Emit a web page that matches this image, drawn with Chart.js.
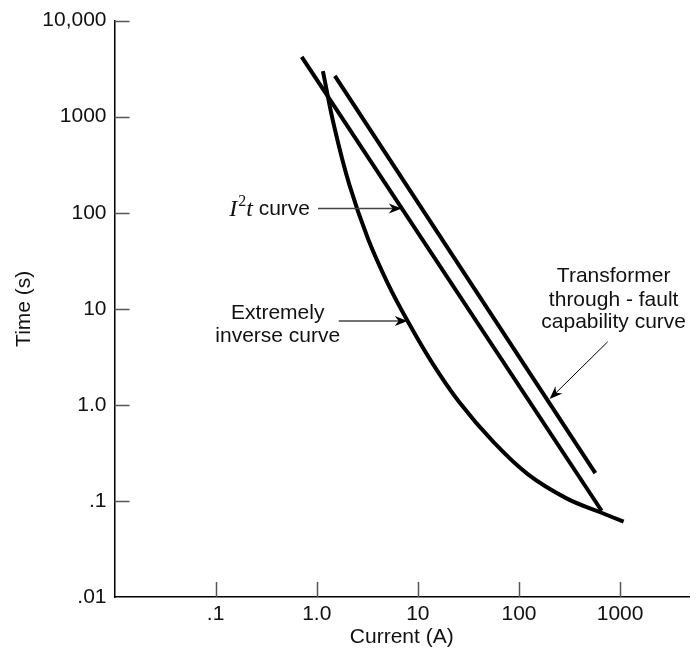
<!DOCTYPE html>
<html>
<head>
<meta charset="utf-8">
<script src="https://cdn.jsdelivr.net/npm/chart.js@4.4.1/dist/chart.umd.min.js"></script>
<style>
  html, body { margin: 0; padding: 0; background: #fff; }
  canvas { display: block; }
</style>
</head>
<body>
<canvas id="curves" width="700" height="653"></canvas>
<script>
// values (log-log axes)
const xTicks = [0.1, 1, 10, 100, 1000];
const xTickLabels = ['.1', '1.0', '10', '100', '1000'];
const yTicks = [0.01, 0.1, 1, 10, 100, 1000, 10000];
const yTickLabels = ['.01', '.1', '1.0', '10', '100', '1000', '10,000'];

const currentEI = [1.15, 1.48, 2.1, 3.22, 5.05, 7.82, 13.8, 25.6, 55.5, 122, 292, 655, 1083];
const timeEI = [2985, 812, 196, 53.2, 18.3, 7.64, 2.75, 1.07, 0.414, 0.19, 0.107, 0.0753, 0.0608];

const currentI2t = [0.71, 656];
const timeI2t = [4190, 0.079];

const currentTx = [1.51, 569];
const timeTx = [2655, 0.195];

// arrow tips / tails in data units
const arrowI2t = { tip: [6.93, 111], tail: [1.03, 111] };
const arrowEI = { tip: [7.94, 7.45], tail: [1.65, 7.45] };
const arrowTx = { tip: [201, 1.15], tail: [753, 4.53] };

const FONT = '"Liberation Sans", Arial, Helvetica, sans-serif';
const SERIF = '"Liberation Serif", "DejaVu Serif", serif';
const INK = '#111';

function pts(xs, ys) {
    return xs.map(function (x, i) { return { x: x, y: ys[i] }; });
}

function arrowHead(ctx, x1, y1, x2, y2) {
    const a = Math.atan2(y2 - y1, x2 - x1);
    const len = 13, half = 5;
    ctx.save();
    ctx.translate(x2, y2);
    ctx.rotate(a);
    ctx.beginPath();
    ctx.moveTo(0, 0);
    ctx.lineTo(-len, -half);
    ctx.lineTo(-len * 0.7, 0);
    ctx.lineTo(-len, half);
    ctx.closePath();
    ctx.fillStyle = '#000';
    ctx.fill();
    ctx.restore();
}

function drawArrow(ctx, xs, ys, arr, width, color) {
    const x1 = xs.getPixelForValue(arr.tail[0]), y1 = ys.getPixelForValue(arr.tail[1]);
    const x2 = xs.getPixelForValue(arr.tip[0]), y2 = ys.getPixelForValue(arr.tip[1]);
    const a = Math.atan2(y2 - y1, x2 - x1);
    ctx.save();
    ctx.strokeStyle = color;
    ctx.lineWidth = width;
    ctx.beginPath();
    ctx.moveTo(x1, y1);
    ctx.lineTo(x2 - 7 * Math.cos(a), y2 - 7 * Math.sin(a));
    ctx.stroke();
    ctx.restore();
    arrowHead(ctx, x1, y1, x2, y2);
    return { x: x1, y: y1 };
}

// inward tick marks
const innerTicks = {
    id: 'innerTicks',
    afterDraw(chart) {
        const ctx = chart.ctx;
        const xs = chart.scales.x, ys = chart.scales.y;
        const area = chart.chartArea;
        ctx.save();
        ctx.strokeStyle = '#555';
        ctx.lineWidth = 1.5;
        xTicks.forEach(function (v) {
            const px = Math.round(xs.getPixelForValue(v)) + 0.5;
            ctx.beginPath();
            ctx.moveTo(px, area.bottom);
            ctx.lineTo(px, area.bottom - 15);
            ctx.stroke();
        });
        yTicks.forEach(function (v) {
            if (v === yTicks[0]) return;
            const py = Math.round(ys.getPixelForValue(v)) + 0.5;
            ctx.beginPath();
            ctx.moveTo(area.left, py);
            ctx.lineTo(area.left + 15, py);
            ctx.stroke();
        });
        ctx.restore();
    }
};

// labels with arrows
const callouts = {
    id: 'callouts',
    afterDraw(chart) {
        const ctx = chart.ctx;
        const xs = chart.scales.x, ys = chart.scales.y;
        ctx.save();
        ctx.fillStyle = INK;
        ctx.textBaseline = 'middle';

        // I^2 t curve
        let t = drawArrow(ctx, xs, ys, arrowI2t, 1.5, '#444');
        ctx.font = '21px ' + FONT;
        const wCurve = ctx.measureText(' curve').width;
        ctx.font = 'italic 24px ' + SERIF;
        const wI = ctx.measureText('I').width;
        const wT = ctx.measureText('t').width;
        ctx.font = '16px ' + SERIF;
        const w2 = ctx.measureText('2').width;
        let x0 = t.x - 8 - (wI + 1 + w2 + wT + wCurve);
        ctx.textAlign = 'left';
        ctx.font = 'italic 24px ' + SERIF;
        ctx.fillText('I', x0, t.y + 1);
        x0 += wI + 1;
        ctx.font = '16px ' + SERIF;
        ctx.fillText('2', x0, t.y - 7);
        x0 += w2;
        ctx.font = 'italic 24px ' + SERIF;
        ctx.fillText('t', x0, t.y + 1);
        x0 += wT;
        ctx.font = '21px ' + FONT;
        ctx.fillText(' curve', x0, t.y + 1);

        // Extremely inverse curve
        t = drawArrow(ctx, xs, ys, arrowEI, 1.5, '#444');
        ctx.textAlign = 'center';
        ctx.fillText('Extremely', t.x - 61, t.y - 8);
        ctx.fillText('inverse curve', t.x - 61, t.y + 15);

        // Transformer through-fault capability curve
        t = drawArrow(ctx, xs, ys, arrowTx, 1, '#000');
        ctx.fillText('Transformer', t.x + 6, t.y - 66);
        ctx.fillText('through - fault', t.x + 6, t.y - 42);
        ctx.fillText('capability curve', t.x + 6, t.y - 20);
        ctx.restore();
    }
};

const lineStyle = {
    showLine: true,
    borderColor: '#000',
    borderWidth: 4,
    pointRadius: 0,
    fill: false
};

new Chart(document.getElementById('curves'), {
    type: 'scatter',
    data: {
        datasets: [
            Object.assign({ label: 'I2t curve', data: pts(currentI2t, timeI2t) }, lineStyle),
            Object.assign({ label: 'Transformer through-fault capability curve', data: pts(currentTx, timeTx) }, lineStyle),
            Object.assign({ label: 'Extremely inverse curve', data: pts(currentEI, timeEI), tension: 0.4 }, lineStyle)
        ]
    },
    options: {
        responsive: false,
        animation: false,
        devicePixelRatio: 1,
        layout: { padding: { top: 14, right: 11, left: 0, bottom: 0 } },
        plugins: {
            legend: { display: false },
            tooltip: { enabled: false }
        },
        scales: {
            x: {
                type: 'logarithmic',
                min: 0.01,
                max: 4800,
                afterBuildTicks: function (scale) {
                    scale.ticks = xTicks.map(function (v) { return { value: v }; });
                },
                afterFit: function (scale) { scale.height = 56; },
                grid: { display: true, drawOnChartArea: false, drawTicks: false },
                border: { display: true, color: '#000', width: 1.5 },
                ticks: {
                    autoSkip: false,
                    maxRotation: 0,
                    padding: 5,
                    color: INK,
                    font: { family: FONT, size: 21 },
                    callback: function (v) {
                        const i = xTicks.indexOf(v);
                        return i >= 0 ? xTickLabels[i] : '';
                    }
                },
                title: {
                    display: true,
                    text: 'Current (A)',
                    color: INK,
                    font: { family: FONT, size: 21 },
                    padding: { top: 0, bottom: 3 }
                }
            },
            y: {
                type: 'logarithmic',
                min: 0.01,
                max: 10000,
                afterBuildTicks: function (scale) {
                    scale.ticks = yTicks.map(function (v) { return { value: v }; });
                },
                afterFit: function (scale) { scale.width = 114.5; },
                grid: { display: true, drawOnChartArea: false, drawTicks: false },
                border: { display: true, color: '#000', width: 1.5 },
                ticks: {
                    autoSkip: false,
                    padding: 8,
                    color: INK,
                    font: { family: FONT, size: 21 },
                    callback: function (v) {
                        const i = yTicks.indexOf(v);
                        return i >= 0 ? yTickLabels[i] : '';
                    }
                },
                title: {
                    display: true,
                    text: 'Time (s)',
                    color: INK,
                    font: { family: FONT, size: 21 },
                    padding: { top: 12, bottom: 0 }
                }
            }
        }
    },
    plugins: [innerTicks, callouts]
});
</script>
</body>
</html>
